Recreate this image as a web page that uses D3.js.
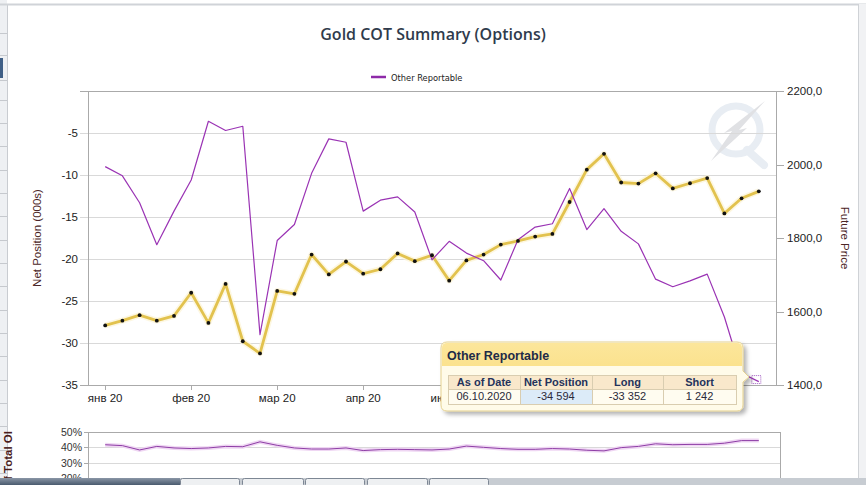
<!DOCTYPE html>
<html><head><meta charset="utf-8">
<script src="https://cdn.jsdelivr.net/npm/d3@7"></script>
<style>
html,body{margin:0;padding:0;background:#fff;}
svg{display:block;}
</style></head>
<body><svg id="c" width="866" height="485"></svg>
<script>
// ---------- data ----------
const dates = ["2020-01-14","2020-01-21","2020-01-28","2020-02-04","2020-02-11","2020-02-18","2020-02-25","2020-03-03","2020-03-10","2020-03-17","2020-03-24","2020-03-31","2020-04-07","2020-04-14","2020-04-21","2020-04-28","2020-05-05","2020-05-12","2020-05-19","2020-05-26","2020-06-02","2020-06-09","2020-06-16","2020-06-23","2020-06-30","2020-07-07","2020-07-14","2020-07-21","2020-07-28","2020-08-04","2020-08-11","2020-08-18","2020-08-25","2020-09-01","2020-09-08","2020-09-15","2020-09-22","2020-09-29","2020-10-06"];
const netPosition = [-9.0,-10.1,-13.3,-18.3,-14.3,-10.6,-3.6,-4.7,-4.2,-29.0,-17.8,-15.9,-9.8,-5.7,-6.1,-14.3,-13.0,-12.6,-14.4,-20.1,-17.9,-19.3,-20.2,-22.5,-17.7,-16.2,-15.8,-11.6,-16.5,-14.0,-16.7,-18.2,-22.4,-23.3,-22.6,-21.8,-26.9,-33.6,-34.594];
const futurePrice = [1562,1575,1590,1575,1588,1651,1569,1675,1519,1486,1656,1648,1755,1701,1736,1703,1715,1758,1737,1753,1684,1739,1755,1782,1792,1804,1811,1898,1986,2029,1951,1948,1976,1935,1949,1963,1867,1908,1927];
const pctTotalOI = [41.7,41.1,38.3,40.6,39.6,39.2,39.6,40.6,40.4,43.6,41.3,39.6,38.9,38.9,39.6,37.9,38.5,38.7,38.5,38.3,38.9,40.8,40.0,39.2,38.7,38.7,39.2,38.9,38.1,37.7,39.8,40.6,42.3,41.7,41.9,41.9,42.7,44.4,44.4];
const monthNames = ["янв","фев","мар","апр","май","июн","июл","авг","сен","окт","ноя","дек"];
const leftTicks = [0,-5,-10,-15,-20,-25,-30,-35];
const rightTicks = [1400,1600,1800,2000,2200];
const oiTicks = [50,40,30,20];
const tooltipHead = ["As of Date","Net Position","Long","Short"];
const tooltipRow = ["06.10.2020","-34 594","-33 352","1 242"];
const seriesName = "Other Reportable";

// ---------- layout ----------
const svg = d3.select("#c");
const L = 88, R = 776, T = 91, B = 385;
const font = "'Liberation Sans', Arial, sans-serif";

// page chrome
svg.append("rect").attr("x",0).attr("y",0).attr("width",866).attr("height",485).attr("fill","#fff");
svg.append("rect").attr("x",0).attr("y",0).attr("width",7).attr("height",485).attr("fill","#eef0f3");
svg.append("line").attr("x1",7.5).attr("x2",7.5).attr("y1",4).attr("y2",485).attr("stroke","#c9ccd1");
svg.append("line").attr("x1",0).attr("x2",866).attr("y1",4.5).attr("y2",4.5).attr("stroke","#d0d3d8").attr("stroke-width",2);
svg.append("rect").attr("x",858).attr("y",4).attr("width",8).attr("height",481).attr("fill","#f1f2f4");
svg.append("line").attr("x1",858.5).attr("x2",858.5).attr("y1",4).attr("y2",485).attr("stroke","#cfd2d6");
[33,55,80,100,123,146,170,193,216,240,263,286,310,333,356,380,403,426,450,473].forEach(y=>{
  svg.append("line").attr("x1",0).attr("x2",7).attr("y1",y+0.5).attr("y2",y+0.5).attr("stroke","#c6c9ce");
});
svg.append("rect").attr("x",0).attr("y",58).attr("width",3).attr("height",20).attr("fill","#3f5f86");

// title
svg.append("text").attr("x",433).attr("y",40).attr("text-anchor","middle")
  .attr("font-family","'Open Sans', 'DejaVu Sans', sans-serif").attr("font-weight",600)
  .attr("font-size",16).attr("fill","#2f3b4c").text("Gold COT Summary (Options)");

// legend
svg.append("line").attr("x1",371).attr("x2",386).attr("y1",77).attr("y2",77).attr("stroke","#8e2aa8").attr("stroke-width",2.5);
svg.append("text").attr("x",391).attr("y",80.5).attr("font-family","'DejaVu Sans', Verdana, sans-serif")
  .attr("font-size",8.3).attr("fill","#222").text(seriesName);

// scales
const idx = d3.range(dates.length);
const x = d3.scalePoint().domain(idx).range([L,R]).padding(1);
const yL = d3.scaleLinear().domain([-35,0]).range([B,T]);
const yR = d3.scaleLinear().domain([1400,2200]).range([B,T]);

// watermark logo
const wm = svg.append("g");
wm.append("circle").attr("cx",736).attr("cy",130).attr("r",24).attr("fill","none").attr("stroke","#e8edf3").attr("stroke-width",7);
wm.append("line").attr("x1",747).attr("y1",150).attr("x2",764).attr("y2",165).attr("stroke","#e8edf3").attr("stroke-width",8).attr("stroke-linecap","round");
wm.append("path").attr("d","M765,101 L739,130 L747,128 L711,161 L732,131 L724,133 Z").attr("fill","#e0e1e4");

// gridlines
svg.append("g").selectAll("line").data(leftTicks).join("line")
  .attr("x1",L-8).attr("x2",R).attr("y1",d=>Math.round(yL(d))+0.5).attr("y2",d=>Math.round(yL(d))+0.5)
  .attr("stroke","#d9d9d9");
// right ticks
svg.append("g").selectAll("line").data(rightTicks).join("line")
  .attr("x1",R).attr("x2",R+8).attr("y1",d=>Math.round(yR(d))+0.5).attr("y2",d=>Math.round(yR(d))+0.5)
  .attr("stroke","#aaa");
// frame
svg.append("line").attr("x1",L+0.5).attr("x2",L+0.5).attr("y1",T).attr("y2",B).attr("stroke","#aaa");
svg.append("line").attr("x1",R+0.5).attr("x2",R+0.5).attr("y1",T).attr("y2",B).attr("stroke","#aaa");
svg.append("line").attr("x1",L-8).attr("x2",R).attr("y1",T+0.5).attr("y2",T+0.5).attr("stroke","#aaa");
svg.append("line").attr("x1",L-8).attr("x2",R).attr("y1",B+0.5).attr("y2",B+0.5).attr("stroke","#aaa");

// left labels
svg.append("g").selectAll("text").data(leftTicks.filter(d=>d!==0)).join("text")
  .attr("x",78).attr("y",d=>yL(d)+4).attr("text-anchor","end")
  .attr("font-family",font).attr("font-size",11.5).attr("fill","#222").text(d=>d);
// right labels
const fmtR = d => d3.format(".1f")(d).replace(".",",");
svg.append("g").selectAll("text").data(rightTicks).join("text")
  .attr("x",787).attr("y",d=>yR(d)+4).attr("text-anchor","start")
  .attr("font-family",font).attr("font-size",11.5).attr("fill","#222").text(fmtR);

// axis titles
svg.append("text").attr("transform",`translate(41,${(T+B)/2}) rotate(-90)`).attr("text-anchor","middle")
  .attr("font-family",font).attr("font-size",11.5).attr("fill","#4b2626").text("Net Position (000s)");
svg.append("text").attr("transform",`translate(841,${(T+B)/2}) rotate(90)`).attr("text-anchor","middle")
  .attr("font-family",font).attr("font-size",11.5).attr("fill","#4b2626").text("Future Price");

// x ticks
const xt = idx.filter(i=>i%5===0);
const lab = i => { const d = new Date(dates[i]+"T00:00:00"); return monthNames[d.getMonth()]+" "+String(d.getFullYear()).slice(2); };
svg.append("g").selectAll("line").data(xt).join("line")
  .attr("x1",i=>Math.round(x(i))+0.5).attr("x2",i=>Math.round(x(i))+0.5).attr("y1",B).attr("y2",B+5).attr("stroke","#aaa");
svg.append("g").selectAll("text").data(xt).join("text")
  .attr("x",i=>x(i)).attr("y",402).attr("text-anchor","middle")
  .attr("font-family",font).attr("font-size",11.5).attr("fill","#222").text(lab);

// lines
const lineP = d3.line().x((d,i)=>x(i)).y(d=>yR(d));
const lineN = d3.line().x((d,i)=>x(i)).y(d=>yL(d));
svg.append("path").attr("d",lineP(futurePrice)).attr("fill","none").attr("stroke","#fcf3d4").attr("stroke-width",6).attr("stroke-linejoin","round").attr("opacity",0.7);
svg.append("path").attr("d",lineP(futurePrice)).attr("fill","none").attr("stroke","#e2c24e").attr("stroke-width",2.8).attr("stroke-linejoin","round");
svg.append("path").attr("d",lineN(netPosition)).attr("fill","none").attr("stroke","#9a33b4").attr("stroke-width",1.2).attr("stroke-linejoin","round");
svg.append("g").selectAll("circle").data(futurePrice).join("circle")
  .attr("cx",(d,i)=>x(i)).attr("cy",d=>yR(d)).attr("r",1.9).attr("fill","#111");

// hover marker
const li = netPosition.length-1;
svg.append("rect").attr("x",x(li)-7).attr("y",yL(netPosition[li])-6).attr("width",9).attr("height",8)
  .attr("fill","none").attr("stroke","#a25cc0").attr("stroke-dasharray","1,1");

// bottom panel
const yO = d3.scaleLinear().domain([20,50]).range([478,432]);
svg.append("g").selectAll("line").data(oiTicks).join("line")
  .attr("x1",L).attr("x2",780).attr("y1",d=>Math.round(yO(d))+0.5).attr("y2",d=>Math.round(yO(d))+0.5)
  .attr("stroke",d=>d===50?"#aaa":"#d9d9d9");
svg.append("line").attr("x1",L+0.5).attr("x2",L+0.5).attr("y1",432).attr("y2",485).attr("stroke","#aaa");
svg.append("line").attr("x1",780.5).attr("x2",780.5).attr("y1",432).attr("y2",485).attr("stroke","#aaa");
svg.append("g").selectAll("line.t").data(oiTicks).join("line")
  .attr("x1",L-4).attr("x2",L).attr("y1",d=>Math.round(yO(d))+0.5).attr("y2",d=>Math.round(yO(d))+0.5).attr("stroke","#aaa");
svg.append("g").selectAll("text").data(oiTicks).join("text")
  .attr("x",82).attr("y",d=>yO(d)+4).attr("text-anchor","end")
  .attr("font-family","'Liberation Sans Narrow', 'Liberation Sans', Arial, sans-serif").attr("font-size",10.5).attr("fill","#333").text(d=>d+"%");
const lineO = d3.line().x((d,i)=>x(i)).y(d=>yO(d));
svg.append("path").attr("d",lineO(pctTotalOI)).attr("fill","none").attr("stroke","#efd6f3").attr("stroke-width",4);
svg.append("path").attr("d",lineO(pctTotalOI)).attr("fill","none").attr("stroke","#8e3ea6").attr("stroke-width",1);
svg.append("text").attr("transform","translate(12,431) rotate(-90)").attr("text-anchor","end")
  .attr("font-family",font).attr("font-weight","bold").attr("font-size",11.5).attr("fill","#4a1c1c").text("% of Total OI");

// taskbar strip
const defs = svg.append("defs");
const tg = defs.append("linearGradient").attr("id","tb").attr("x1",0).attr("x2",0).attr("y1",0).attr("y2",1);
tg.append("stop").attr("offset",0).attr("stop-color","#8a96a6");
tg.append("stop").attr("offset",1).attr("stop-color","#4a5a6e");
svg.append("rect").attr("x",0).attr("y",478).attr("width",866).attr("height",7).attr("fill","url(#tb)");
svg.append("rect").attr("x",180).attr("y",478).attr("width",686).attr("height",7).attr("fill","#c7ccd2");
[[180,239],[242,303],[305,364],[367,427],[429,488]].forEach(([a,b])=>{
  svg.append("rect").attr("x",a+0.5).attr("y",478.5).attr("width",b-a).attr("height",8).attr("rx",2)
    .attr("fill","#eef0f2").attr("stroke","#7d8794");
});

// tooltip
const tt = svg.append("g");
const f = defs.append("filter").attr("id","sh").attr("x","-10%").attr("y","-10%").attr("width","130%").attr("height","140%");
f.append("feDropShadow").attr("dx",3).attr("dy",3).attr("stdDeviation",2).attr("flood-color","#000").attr("flood-opacity",0.3);
const hg = defs.append("linearGradient").attr("id","hg").attr("x1",0).attr("x2",0).attr("y1",0).attr("y2",1);
hg.append("stop").attr("offset",0).attr("stop-color","#fce69b");
hg.append("stop").attr("offset",1).attr("stop-color","#fbe28e");
tt.append("path").attr("d","M447,342 H737 Q743,342 743,348 V371 L749,377 L743,382 V405 Q743,411 737,411 H447 Q441,411 441,405 V348 Q441,342 447,342 Z")
  .attr("fill","#fffbe9").attr("stroke","#e5d18f").attr("filter","url(#sh)");
tt.append("path").attr("d","M447,343 H737 Q742,343 742,348 V366 H442 V348 Q442,343 447,343 Z").attr("fill","url(#hg)");
tt.append("text").attr("x",447).attr("y",360).attr("font-family",font).attr("font-weight","bold").attr("font-size",12.5).attr("fill","#1e2b48").text(seriesName);
const cols = [448,520,592,663,736];
const rowY = [375,389,404];
tooltipHead.forEach((h,i)=>{
  tt.append("rect").attr("x",cols[i]+0.5).attr("y",rowY[0]+0.5).attr("width",cols[i+1]-cols[i]).attr("height",rowY[1]-rowY[0])
    .attr("fill","#f9e8cb").attr("stroke","#d9cdb0");
  tt.append("rect").attr("x",cols[i]+0.5).attr("y",rowY[1]+0.5).attr("width",cols[i+1]-cols[i]).attr("height",rowY[2]-rowY[1])
    .attr("fill",i===1?"#dcebf8":"#fffcf0").attr("stroke","#d9cdb0");
  tt.append("text").attr("x",(cols[i]+cols[i+1])/2).attr("y",rowY[0]+11).attr("text-anchor","middle")
    .attr("font-family",font).attr("font-weight","bold").attr("font-size",11).attr("fill","#24335c").text(h);
  tt.append("text").attr("x",(cols[i]+cols[i+1])/2).attr("y",rowY[1]+11).attr("text-anchor","middle")
    .attr("font-family",font).attr("font-size",11).attr("fill","#2a2a3a").text(tooltipRow[i]);
});
</script></body></html>
